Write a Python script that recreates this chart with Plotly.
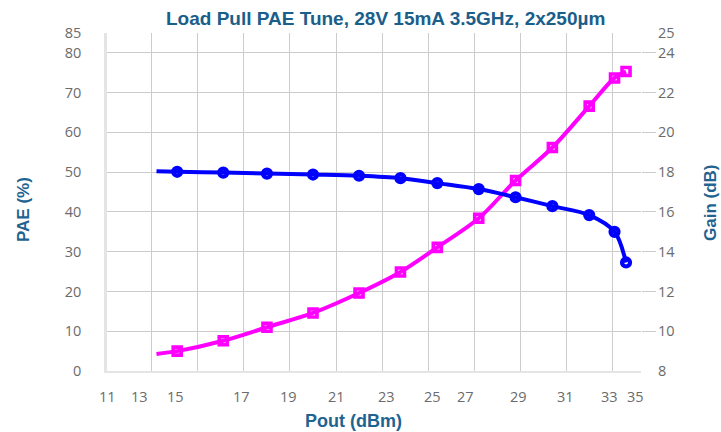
import plotly.graph_objects as go

# ---- data ----
pout = [13.2, 14.1, 16.1, 18.0, 20.0, 22.0, 23.8, 25.4, 27.2, 28.8, 30.4, 32.0, 33.1, 33.6]
pae = [4.3, 5.0, 7.6, 11.0, 14.6, 19.6, 24.9, 31.1, 38.4, 47.9, 56.2, 66.6, 73.7, 75.3]
gain = [18.05, 18.02, 17.98, 17.93, 17.88, 17.82, 17.70, 17.45, 17.15, 16.74, 16.29, 15.84, 15.00, 13.46]

x_tick_text = ["11", "13", "15", "17", "19", "21", "23", "25", "27", "29", "31", "33", "35"]
x_tick_pos = [11.08, 12.45, 14.02, 16.88, 18.92, 21.0, 23.18, 25.17, 26.64, 28.91, 30.96, 32.9, 34.03]
pae_ticks = [0, 10, 20, 30, 40, 50, 60, 70, 80, 85]
gain_ticks = [8, 10, 12, 14, 16, 18, 20, 22, 24, 25]
gain_grid = [10, 12, 14, 16, 18, 20, 22, 24]

TICK_FONT = dict(family="Open Sans", size=14.5, color="#6b6b6b")
TITLE_COL = "#1a5e8a"
AX_TITLE_COL = "#1f6391"
GRID = "#cccccc"
AXLINE = "#e4e4e4"

fig = go.Figure()

# PAE (left axis)
fig.add_trace(go.Scatter(x=pout, y=pae, mode="lines", yaxis="y",
                         line=dict(color="#ff00ff", width=4, shape="spline", smoothing=0.9),
                         showlegend=False, hoverinfo="skip"))
fig.add_trace(go.Scatter(x=pout[1:], y=pae[1:], mode="markers", yaxis="y", name="PAE",
                         marker=dict(symbol="square-open", size=8, color="#ff00ff",
                                     line=dict(width=3.6, color="#ff00ff")),
                         showlegend=False))
# Gain (right axis)
fig.add_trace(go.Scatter(x=pout, y=gain, mode="lines", yaxis="y2",
                         line=dict(color="#0000ff", width=4, shape="spline", smoothing=0.9),
                         showlegend=False, hoverinfo="skip"))
fig.add_trace(go.Scatter(x=pout[1:], y=gain[1:], mode="markers", yaxis="y2", name="Gain",
                         marker=dict(symbol="circle-open", size=8, color="#0000ff",
                                     line=dict(width=4.2, color="#0000ff")),
                         showlegend=False))
# empty trace so the gridline/tick axis (y3) is rendered
fig.add_trace(go.Scatter(x=[], y=[], yaxis="y3", mode="lines",
                         showlegend=False, hoverinfo="skip"))

L, R, T, B = 107, 641, 33, 371
W, H = R - L, B - T


def px_x(p):
    return (p - L) / W


def px_y(p):
    return (B - p) / H


annotations = [
    dict(text="Load Pull PAE Tune, 28V 15mA 3.5GHz, 2x250µm", xref="paper", yref="paper",
         x=px_x(385), y=px_y(18), xanchor="center", yanchor="middle", showarrow=False,
         font=dict(family="Liberation Sans", size=19, color=TITLE_COL, weight="bold")),
    dict(text="PAE (%)", xref="paper", yref="paper",
         x=px_x(23), y=px_y(210), xanchor="center", yanchor="middle",
         textangle=-90, showarrow=False,
         font=dict(family="Liberation Sans", size=17, color=AX_TITLE_COL, weight="bold")),
    dict(text="Gain (dB)", xref="paper", yref="paper",
         x=px_x(710), y=px_y(203), xanchor="center", yanchor="middle",
         textangle=-90, showarrow=False,
         font=dict(family="Liberation Sans", size=17, color=AX_TITLE_COL, weight="bold")),
    dict(text="Pout (dBm)", xref="paper", yref="paper",
         x=px_x(353), y=px_y(421), xanchor="center", yanchor="middle", showarrow=False,
         font=dict(family="Liberation Sans", size=18, color=AX_TITLE_COL, weight="bold")),
]
# x-axis tick labels, at the positions they occupy in the reference
for pos, txt in zip(x_tick_pos, x_tick_text):
    annotations.append(dict(text=txt, xref="x", yref="paper", x=pos, y=px_y(396),
                            xanchor="center", yanchor="middle", showarrow=False,
                            font=TICK_FONT))

xr = [11.05, 34.25]
fig.update_layout(
    width=721, height=432,
    margin=dict(l=L, r=721 - R, t=T, b=432 - B, autoexpand=False),
    paper_bgcolor="white", plot_bgcolor="white",
    showlegend=False,
    xaxis=dict(range=xr, tick0=11, dtick=2, showgrid=True, gridcolor=GRID, gridwidth=1,
               showticklabels=False, ticks="", zeroline=False,
               showline=True, linecolor=AXLINE, linewidth=2),
    yaxis=dict(range=[0, 85], tickmode="array", tickvals=pae_ticks,
               ticktext=[str(v) for v in pae_ticks],
               showgrid=False, zeroline=False, ticks="",
               showline=True, linecolor=AXLINE, linewidth=2.5,
               tickfont=TICK_FONT, ticklabelstandoff=20),
    yaxis2=dict(range=[8, 25], overlaying="y", side="right", anchor="x",
                tickmode="array", tickvals=gain_ticks,
                ticktext=[str(v) for v in gain_ticks],
                showgrid=False, zeroline=False, showline=False, ticks="",
                tickfont=TICK_FONT, ticklabelstandoff=16),
    yaxis3=dict(range=[8, 25], overlaying="y", side="right", anchor="x",
                tickmode="array", tickvals=gain_grid, showticklabels=False,
                showgrid=True, gridcolor=GRID, gridwidth=1,
                ticks="outside", ticklen=14, tickcolor=GRID, tickwidth=1,
                zeroline=False, showline=False),
    annotations=annotations,
)

fig.write_html("out.html", config={"displayModeBar": False},
               post_script="document.body.style.margin='0';document.body.style.padding='0';")
